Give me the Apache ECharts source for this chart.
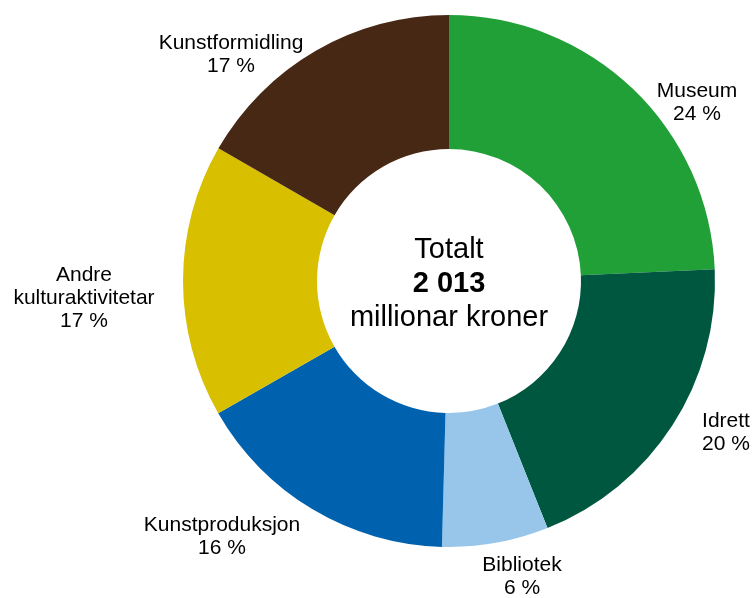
<!DOCTYPE html>
<html>
<head>
<meta charset="utf-8">
<script src="https://cdn.jsdelivr.net/npm/echarts@6/dist/echarts.min.js"></script>
<style>
html,body{margin:0;padding:0;background:#fff;}
#chart{width:753px;height:598px;}
</style>
</head>
<body>
<div id="chart"></div>
<script>
// Data (millionar kroner)
const categories = ['Museum', 'Idrett', 'Bibliotek', 'Kunstproduksjon', 'Andre\nkulturaktivitetar', 'Kunstformidling'];
const values = [489, 396, 130, 328, 334, 336];
const percentLabels = ['24 %', '20 %', '6 %', '16 %', '17 %', '17 %'];
const centerTitle = 'Totalt';
const centerUnit = 'millionar kroner';

// Styling
const colors = ['#21a038', '#00573f', '#98c6ea', '#0062ae', '#d8bf00', '#472815'];
const labelPos = [[697, 103], [726, 433], [522, 577], [222, 537], [84, 298], [231, 55]];
const FONT = '"Liberation Sans", Arial, sans-serif';

const total = values.reduce((a, b) => a + b, 0);
const totalText = String(total).replace(/\B(?=(\d{3})+(?!\d))/g, ' ');

const chart = echarts.init(document.getElementById('chart'), null, {renderer: 'canvas'});
chart.setOption({
  animation: false,
  backgroundColor: '#ffffff',
  series: [{
    type: 'pie',
    center: [449, 281],
    radius: [132, 266],
    startAngle: 90,
    clockwise: true,
    avoidLabelOverlap: false,
    itemStyle: {borderWidth: 0},
    emphasis: {disabled: true},
    label: {
      show: true,
      position: 'outside',
      color: '#000',
      fontFamily: FONT,
      fontSize: 21,
      lineHeight: 23,
      align: 'center',
      formatter: p => categories[p.dataIndex] + '\n' + percentLabels[p.dataIndex]
    },
    labelLine: {show: false},
    labelLayout: p => ({
      x: labelPos[p.dataIndex][0],
      y: labelPos[p.dataIndex][1],
      align: 'center',
      verticalAlign: 'middle'
    }),
    data: categories.map((c, i) => ({name: c, value: values[i], itemStyle: {color: colors[i]}}))
  }],
  graphic: [{
    type: 'text',
    x: 449,
    y: 284,
    style: {
      text: '{a|' + centerTitle + '}\n{b|' + totalText + '}\n{a|' + centerUnit + '}',
      align: 'center',
      verticalAlign: 'middle',
      rich: {
        a: {fontFamily: FONT, fontSize: 29, lineHeight: 34, fill: '#000', color: '#000', align: 'center'},
        b: {fontFamily: FONT, fontSize: 29, lineHeight: 34, fontWeight: 'bold', fill: '#000', color: '#000', align: 'center'}
      }
    }
  }]
});
</script>
</body>
</html>
